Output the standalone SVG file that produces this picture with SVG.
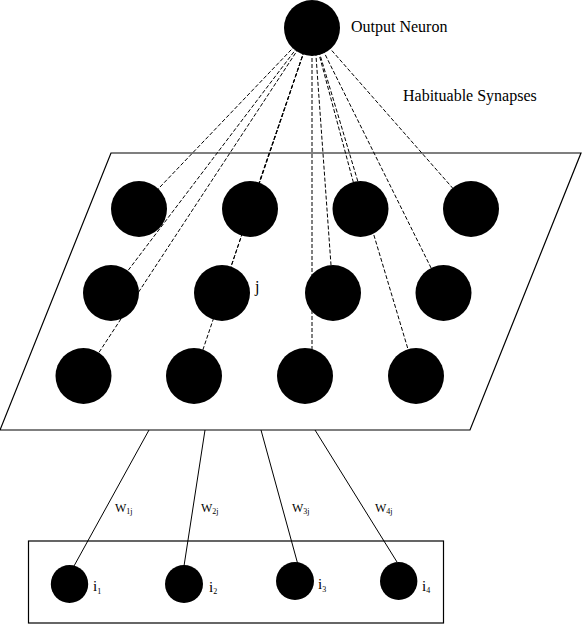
<svg xmlns="http://www.w3.org/2000/svg" width="584" height="626" viewBox="0 0 584 626">
<style>
.n{fill:#000}
.syn{stroke:#000;stroke-width:1;stroke-dasharray:4 2;fill:none}
.w{stroke:#000;stroke-width:1;fill:none}
.frame{stroke:#000;stroke-width:1.2;fill:#fff}
text{font-family:"Liberation Serif","Times New Roman",serif;fill:#000}
.lbl{font-size:16px}
.wl{font-size:12px}
.il{font-size:15px}
.sub{font-size:8px;fill:#000}
</style>
<rect width="584" height="626" fill="#fff"/>
<g id="layer-plane">
<polygon class="frame" points="111,153 581,153 470,430 0,430"/>
</g>
<g id="input-box">
<rect class="frame" x="28.5" y="541" width="415" height="82"/>
</g>
<g id="connectors">
<line class="syn" x1="312" y1="28" x2="139" y2="209"/>
<line class="syn" x1="312" y1="28" x2="111" y2="293"/>
<line class="syn" x1="312" y1="28" x2="83.5" y2="376"/>
<line class="syn" x1="312" y1="28" x2="250" y2="209"/>
<line class="syn" x1="312" y1="28" x2="222" y2="293"/>
<line class="syn" x1="312" y1="28" x2="194" y2="376"/>
<line class="syn" x1="312" y1="28" x2="360.5" y2="209"/>
<line class="syn" x1="314" y1="28" x2="333" y2="293"/>
<line class="syn" x1="312" y1="28" x2="312" y2="376"/>
<line class="syn" x1="312" y1="28" x2="471" y2="209"/>
<line class="syn" x1="312" y1="28" x2="443.5" y2="293"/>
<line class="syn" x1="312" y1="28" x2="416" y2="376"/>
<line class="w" x1="149" y1="430" x2="74" y2="566"/>
<line class="w" x1="205" y1="430" x2="184" y2="566"/>
<line class="w" x1="261" y1="430" x2="297.5" y2="563"/>
<line class="w" x1="315" y1="430" x2="397" y2="562"/>
</g>
<g id="output-neuron">
<circle class="n" cx="312" cy="28" r="28"/>
<text class="lbl" x="351" y="32">Output Neuron</text>
</g>
<g id="synapse-label">
<text class="lbl" x="403" y="101">Habituable Synapses</text>
</g>
<g id="r1c1"><circle class="n" cx="139" cy="209" r="28"/></g>
<g id="r1c2"><circle class="n" cx="250" cy="209" r="28"/></g>
<g id="r1c3"><circle class="n" cx="360.5" cy="209" r="28"/></g>
<g id="r1c4"><circle class="n" cx="471" cy="209" r="28"/></g>
<g id="r2c1"><circle class="n" cx="111" cy="293" r="28"/></g>
<g id="r2c2"><circle class="n" cx="222" cy="293" r="28"/><text class="lbl" x="255" y="292">j</text></g>
<g id="r2c3"><circle class="n" cx="333" cy="293" r="28"/></g>
<g id="r2c4"><circle class="n" cx="443.5" cy="293" r="28"/></g>
<g id="r3c1"><circle class="n" cx="83.5" cy="376" r="28"/></g>
<g id="r3c2"><circle class="n" cx="194" cy="376" r="28"/></g>
<g id="r3c3"><circle class="n" cx="305" cy="376" r="28"/></g>
<g id="r3c4"><circle class="n" cx="416" cy="376" r="28"/></g>
<g id="weight-labels">
<text class="wl" x="115" y="512">W<tspan class="sub" dy="2">1j</tspan></text>
<text class="wl" x="201" y="512">W<tspan class="sub" dy="2">2j</tspan></text>
<text class="wl" x="292" y="512">W<tspan class="sub" dy="2">3j</tspan></text>
<text class="wl" x="375" y="512">W<tspan class="sub" dy="2">4j</tspan></text>
</g>
<g id="i1"><ellipse class="n" cx="69.5" cy="584" rx="18.7" ry="19"/><text class="il" x="93" y="591">i<tspan class="sub" dy="3">1</tspan></text></g>
<g id="i2"><ellipse class="n" cx="184" cy="584" rx="19" ry="19"/><text class="il" x="209" y="592">i<tspan class="sub" dy="2">2</tspan></text></g>
<g id="i3"><ellipse class="n" cx="295" cy="581" rx="19" ry="19"/><text class="il" x="318" y="589">i<tspan class="sub" dy="3">3</tspan></text></g>
<g id="i4"><ellipse class="n" cx="398.7" cy="581" rx="18.7" ry="19"/><text class="il" x="422" y="591">i<tspan class="sub" dy="2">4</tspan></text></g>
</svg>
